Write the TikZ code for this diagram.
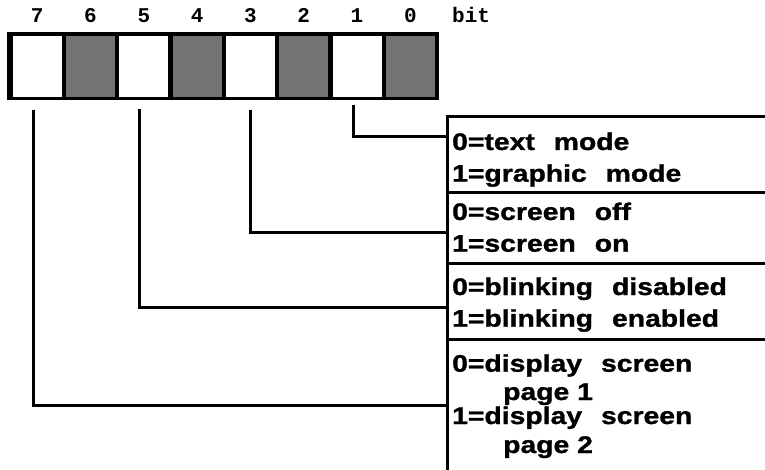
\documentclass[tikz,border=0pt]{standalone}
\usepackage{fontspec}
\newfontfamily\lblfont{Liberation Sans}[FakeStretch=1.18,FakeBold=1.2]
\newfontfamily\bitfont{Liberation Mono}
\newcommand\wgap{\hspace*{19pt}}
\begin{document}
\begin{tikzpicture}[x=1pt,y=-1pt,
  cellw/.style={fill=white, minimum width=49pt, minimum height=61pt, inner sep=0pt, outer sep=0pt},
  cellg/.style={cellw, fill=black!55},
  wire/.style={line width=3pt},
  boxline/.style={draw, line width=3pt, anchor=north west, minimum width=340pt, inner sep=0pt, outer sep=0pt},
  lbl/.style={anchor=base west, inner sep=0pt, font=\lblfont\bfseries\fontsize{24}{24}\selectfont},
  bitlbl/.style={anchor=base, inner sep=0pt, font=\bitfont\bfseries\fontsize{21}{21}\selectfont}]
\useasboundingbox (0,0) rectangle (765,470);
% register
\node[fill=black, minimum width=432pt, minimum height=67.7pt, anchor=north west, inner sep=0pt, outer sep=0pt] (reg) at (7.3,32.3) {};
\foreach \b in {0,...,7}{
  \pgfmathsetmacro\cx{12.7+(7-\b)*53.3+24.5}
  \pgfmathtruncatemacro\ev{mod(\b,2)}
  \ifnum\ev=0
    \node[cellg] (b\b) at (\cx,66.2) {};
  \else
    \node[cellw] (b\b) at (\cx,66.2) {};
  \fi
  \node[bitlbl] (n\b) at (\cx,22.7) {\b};
}
\node[bitlbl, anchor=base west] (bitword) at (452,22.7) {bit};
% boxes
\node[boxline, minimum height=76pt] (box1) at (447,117) {};
\node[boxline, minimum height=70pt] (box2) at (447,193) {};
\node[boxline, minimum height=76pt] (box3) at (447,263) {};
\node[boxline, minimum height=151pt] (box4) at (447,339) {};
% connection points
\coordinate (c1) at (447,137);
\coordinate (c3) at (447,233);
\coordinate (c5) at (447,307);
\coordinate (c7) at (447,405);
\draw[wire] ([xshift=-4pt,yshift=-8pt]b1.south) |- (c1);
\draw[wire] ([yshift=-13pt]b3.south) |- (c3);
\draw[wire] ([xshift=-4pt,yshift=-12pt]b5.south) |- (c5);
\draw[wire] ([xshift=-4pt,yshift=-13pt]b7.south) |- (c7);
% texts
\node[lbl] (t1a) at (452,150) {0=text\wgap mode};
\node[lbl] (t1b) at (452,181.7) {1=graphic\wgap mode};
\node[lbl] (t2a) at (452,220) {0=screen\wgap off};
\node[lbl] (t2b) at (452,251.7) {1=screen\wgap on};
\node[lbl] (t3a) at (452,295) {0=blinking\wgap disabled};
\node[lbl] (t3b) at (452,326.7) {1=blinking\wgap enabled};
\node[lbl] (t4a) at (452,371.7) {0=display\wgap screen};
\node[lbl] (t4b) at (503,400) {page 1};
\node[lbl] (t4c) at (452,424) {1=display\wgap screen};
\node[lbl] (t4d) at (503,453) {page 2};
\end{tikzpicture}
\end{document}
